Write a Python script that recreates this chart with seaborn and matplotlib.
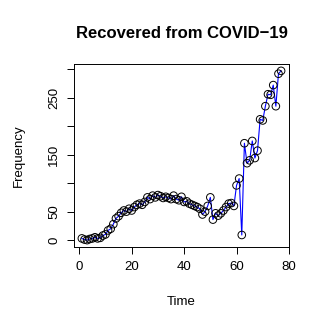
import matplotlib
matplotlib.use("Agg")
import matplotlib.pyplot as plt
import seaborn as sns
import pandas as pd

# dzienne wartości
time = list(range(1, 78))
recovered = [3, 1, 0, 2, 3, 5, 3, 4, 8, 10,
             17, 20, 28, 38, 42, 48, 52, 50, 55, 52,
             58, 62, 64, 62, 67, 75, 72, 78, 75, 79,
             77, 74, 76, 74, 72, 78, 72, 70, 76, 67,
             68, 64, 62, 60, 58, 55, 45, 50, 60, 75,
             36, 47, 43, 47, 52, 58, 64, 65, 60, 96,
             108, 9, 170, 135, 140, 174, 144, 157, 212, 210,
             235, 256, 255, 272, 235, 292, 297]
y_ticks = [0, 50, 100, 150, 200, 250, 300]
y_labels = ["0", "50", "", "150", "", "250", ""]
x_ticks = [0, 20, 40, 60, 80]

df = pd.DataFrame({"Time": time, "Frequency": recovered})

plt.rcParams['font.family'] = ['Liberation Sans', 'DejaVu Sans']
fig = plt.figure(figsize=(3.27, 3.27), dpi=100)
ax = fig.add_axes([0.226, 0.245, 0.658, 0.559])

sns.lineplot(data=df, x="Time", y="Frequency", color="blue", linewidth=0.8, ax=ax)
sns.scatterplot(data=df, x="Time", y="Frequency", marker="o", s=30,
                facecolors="none", edgecolor="black", linewidth=0.7, ax=ax, zorder=3)

rng = max(recovered) - min(recovered)
ax.set_xlim(1 - 0.04 * 76, 77 + 0.04 * 76)
ax.set_ylim(min(recovered) - 0.04 * rng, max(recovered) + 0.04 * rng)
ax.set_xticks(x_ticks)
ax.set_yticks(y_ticks)
ax.set_yticklabels(y_labels, rotation=90, va="center")
ax.tick_params(direction="out", length=5, width=0.7, labelsize=9.5, pad=5)
for s in ax.spines.values():
    s.set_linewidth(0.7)

ax.set_xlabel("Time", fontsize=9.5, labelpad=17)
ax.set_ylabel("Frequency", fontsize=9.5, labelpad=17)
ax.set_title("Recovered from COVID\u221219", fontsize=12, fontweight="bold", pad=19)

fig.savefig("out.png", dpi=100)
